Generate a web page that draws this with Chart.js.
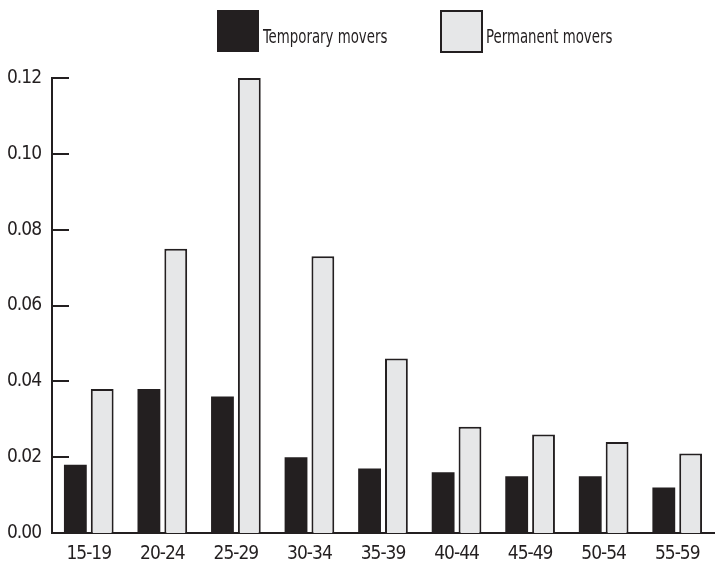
<!DOCTYPE html>
<html>
<head>
<meta charset="utf-8">
<script src="https://cdn.jsdelivr.net/npm/chart.js@4/dist/chart.umd.min.js"></script>
<style>
  html, body { margin: 0; padding: 0; background: #fff; }
  #wrap { width: 715px; height: 569px; }
</style>
</head>
<body>
<div id="wrap"><canvas id="chart"></canvas></div>
<script>
// ─── DONNÉES ──────────────────────────────────────────────────────────────
const ageGroups = ['15-19', '20-24', '25-29', '30-34', '35-39', '40-44', '45-49', '50-54', '55-59'];
const temporaryMovers = [0.018, 0.038, 0.036, 0.020, 0.017, 0.016, 0.015, 0.015, 0.012];
const permanentMovers = [0.038, 0.075, 0.120, 0.073, 0.046, 0.028, 0.026, 0.024, 0.021];
const yTicks = ['0.00', '0.02', '0.04', '0.06', '0.08', '0.10', '0.12'];

const INK = '#231f20';
const LIGHT = '#e6e7e8';
const FONT = "'Liberation Sans Narrow', 'DejaVu Sans Condensed', 'DejaVu Sans', sans-serif";

// police étroite : on resserre un peu les lettres
const narrowText = {
    id: 'narrowText',
    beforeDraw(chart) {
        chart.ctx.letterSpacing = '-1px';
    }
};

// ticks courts vers l'intérieur + légende à la main
const customDraw = {
    id: 'customDraw',
    afterDraw(chart) {
        const c = chart.ctx;
        const y = chart.scales.y;
        const left = chart.chartArea.left;
        c.save();
        c.strokeStyle = INK;
        c.lineWidth = 2;
        yTicks.forEach(t => {
            const py = Math.round(y.getPixelForValue(parseFloat(t)));
            c.beginPath();
            c.moveTo(left, py);
            c.lineTo(left + 17, py);
            c.stroke();
        });

        // légende
        const items = [
            { x: 217, ds: chart.data.datasets[0] },
            { x: 440, ds: chart.data.datasets[1] }
        ];
        items.forEach(it => {
            c.fillStyle = it.ds.backgroundColor;
            c.fillRect(it.x, 10, 42, 42);
            if (it.ds.borderWidth) {
                c.lineWidth = 2;
                c.strokeStyle = INK;
                c.strokeRect(it.x + 1, 11, 41, 41);
            }
            c.save();
            c.letterSpacing = '0px';
            c.font = '19px ' + FONT;
            c.textBaseline = 'alphabetic';
            c.fillStyle = INK;
            c.translate(it.x + 46, 43);
            c.scale(0.78, 1);
            c.fillText(it.ds.label, 0, 0);
            c.restore();
        });
        c.restore();
    }
};

new Chart(document.getElementById('chart'), {
    type: 'bar',
    data: {
        labels: ageGroups,
        datasets: [
            {
                label: 'Temporary movers',
                data: temporaryMovers,
                backgroundColor: INK,
                borderWidth: 0
            },
            {
                label: 'Permanent movers',
                data: permanentMovers,
                backgroundColor: LIGHT,
                borderColor: INK,
                borderWidth: 2
            }
        ]
    },
    plugins: [narrowText, customDraw],
    options: {
        responsive: true,
        maintainAspectRatio: false,
        animation: false,
        categoryPercentage: 0.73,
        barPercentage: 0.85,
        layout: { padding: { top: 78, right: 1, left: 0, bottom: 0 } },
        scales: {
            x: {
                grid: { display: false, drawTicks: false },
                border: { color: INK, width: 2 },
                ticks: {
                    color: INK,
                    padding: 10,
                    font: { size: 19, family: FONT }
                },
                afterFit: s => { s.height = 36; }
            },
            y: {
                min: 0, max: 0.12,
                grid: { display: false, drawTicks: false },
                border: { color: INK, width: 2 },
                ticks: {
                    stepSize: 0.02,
                    color: INK,
                    padding: 11,
                    font: { size: 19, family: FONT },
                    callback: (v, i) => yTicks[i]
                },
                afterFit: s => { s.width = 52; }
            }
        },
        plugins: {
            legend: { display: false },
            tooltip: { enabled: false }
        }
    }
});
</script>
</body>
</html>
